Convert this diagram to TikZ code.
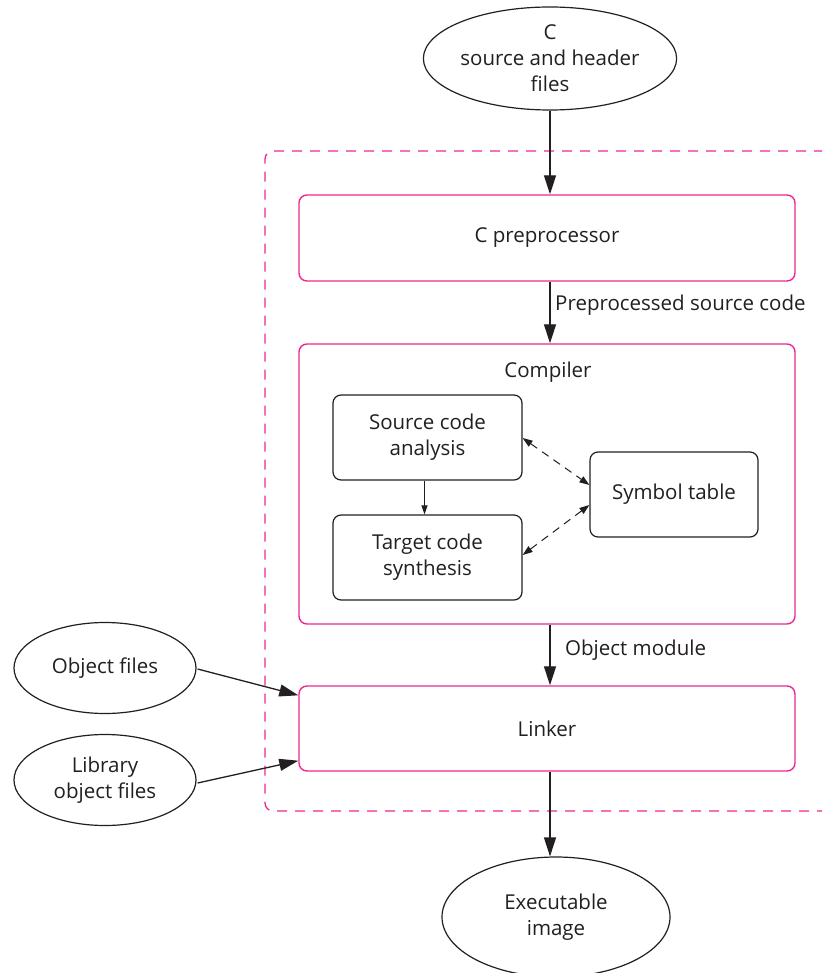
\documentclass[tikz,border=0pt]{standalone}
\usepackage{fontspec}
\setmainfont{Open Sans}
\usetikzlibrary{shapes.geometric,arrows.meta,calc}
\definecolor{pinkc}{RGB}{236,40,145}
\definecolor{ink}{RGB}{35,31,32}
\begin{document}
\begin{tikzpicture}[x=1pt,y=-1pt,
  every node/.style={font=\fontsize{20.5}{26}\selectfont, text=ink, align=center},
  oval/.style={ellipse, draw=ink, line width=1.2pt, inner sep=0pt},
  pbox/.style={rectangle, rounded corners=8pt, draw=pinkc, line width=1.4pt, minimum width=496pt, inner sep=0pt},
  ibox/.style={rectangle, rounded corners=8pt, draw=ink, line width=1.2pt, inner sep=0pt, minimum height=85pt},
  arr/.style={draw=ink, line width=1.3pt, -{Triangle[length=19pt,width=12pt]}},
  sarr/.style={draw=ink, line width=1pt, -{Triangle[length=9pt,width=6pt]}},
  darr/.style={draw=ink, line width=1pt, dash pattern=on 8pt off 6pt, {Triangle[length=10pt,width=7pt]}-{Triangle[length=10pt,width=7pt]}},
  lbl/.style={anchor=west, inner sep=0pt}
]
\clip (0,0) rectangle (822,973);
\fill[white] (0,0) rectangle (822,973);

% dashed enclosure
\draw[pinkc, line width=1.3pt, dash pattern=on 10pt off 8pt, rounded corners=8pt]
  (860,151) -- (265,151) -- (265,811) -- (860,811);

% nodes
\node[oval, minimum width=230pt, minimum height=103pt] (src) at (550,58.5) {C\\source and header\\files};
\node[pbox, minimum height=86pt] (pre) at (547,238) {C preprocessor};
\node[pbox, minimum height=280pt] (comp) at (547,484) {};
\node (complbl) at (548,372) {Compiler};
\node[ibox, minimum width=189pt] (sca) at (427.5,437.5) {Source code\\analysis};
\node[ibox, minimum width=189pt] (tcs) at (427.5,557.5) {Target code\\synthesis};
\node[ibox, minimum width=168pt] (sym) at (674,494.5) {Symbol table};
\node[pbox, minimum height=85pt] (link) at (547,728.5) {Linker};
\node[oval, minimum width=182pt, minimum height=91pt] (obj) at (105,668) {Object files};
\node[oval, minimum width=182pt, minimum height=91pt] (lib) at (105,780) {Library\\object files};
\node[oval, minimum width=228pt, minimum height=120pt] (exe) at (556,917) {Executable\\image};

% labels
\node[lbl] (pslbl) at (555,305) {Preprocessed source code};
\node[lbl] (omlbl) at (565,650) {Object module};

% connectors
\draw[arr] (src.south) -- (src.south |- pre.north);
\draw[arr] (src.south |- pre.south) -- (src.south |- comp.north);
\draw[arr] (src.south |- comp.south) -- (src.south |- link.north);
\draw[arr] (src.south |- link.south) -- (src.south |- exe.north);
\draw[sarr] ($(sca.south)+(-3,0)$) -- ($(tcs.north)+(-3,0)$);
\draw[darr] ($(sca.east)+(0,0.5)$) -- ($(sym.west)+(0,-9.5)$);
\draw[darr] ($(tcs.east)+(0,-2.5)$) -- ($(sym.west)+(0,10.5)$);
\draw[arr] ($(obj.east)+(1,1)$) -- ($(link.north west)+(0,10)$);
\draw[arr] ($(lib.east)+(1,3)$) -- ($(link.south west)+(0,-11)$);
\end{tikzpicture}
\end{document}
